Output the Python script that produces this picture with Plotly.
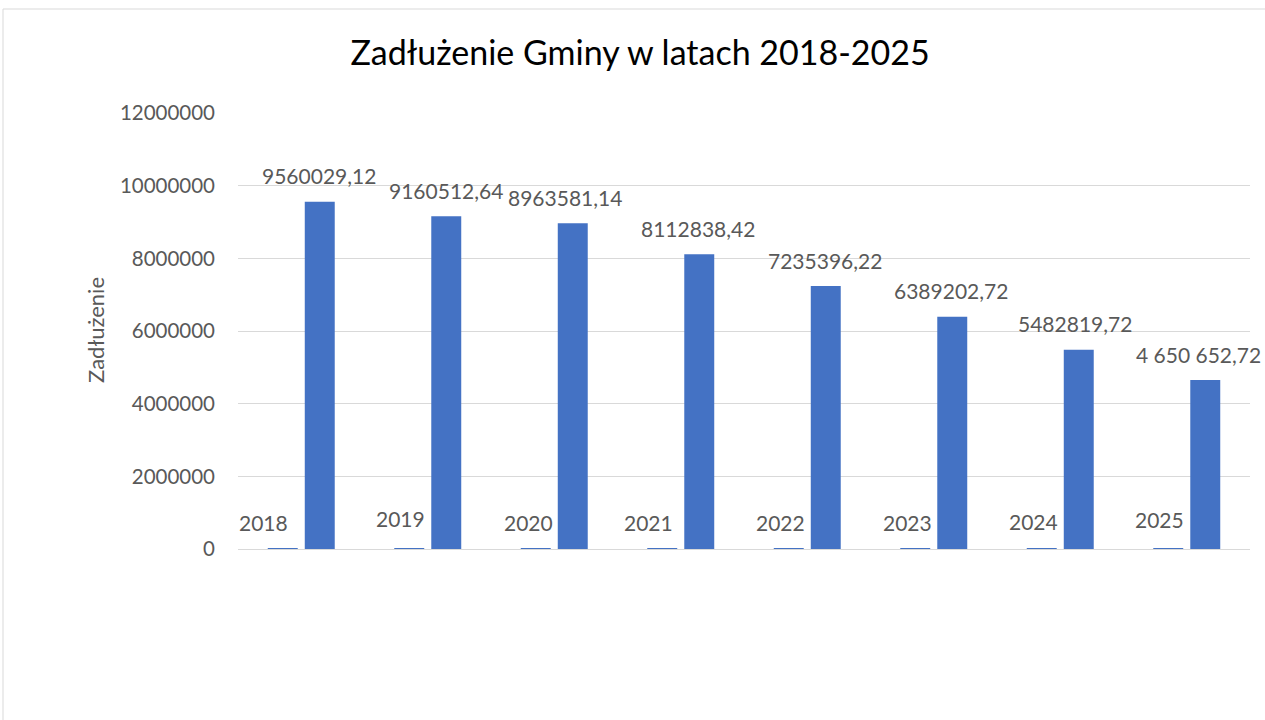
import plotly.graph_objects as go

categories = ["2018", "2019", "2020", "2021", "2022", "2023", "2024", "2025"]
year_values = [2018, 2019, 2020, 2021, 2022, 2023, 2024, 2025]
debt_values = [9560029.12, 9160512.64, 8963581.14, 8112838.42,
               7235396.22, 6389202.72, 5482819.72, 4650652.72]
debt_labels = ["9560029,12", "9160512,64", "8963581,14", "8112838,42",
               "7235396,22", "6389202,72", "5482819,72", "4 650 652,72"]
y_ticks = [0, 2000000, 4000000, 6000000, 8000000, 10000000, 12000000]

# label offsets (styling, pixels)
year_label_dx = [-38, -27, -26, -32, -27, -26, -27, -27]
year_label_dy = [26, 30, 26, 26, 26, 26, 27, 29]
debt_label_dx = [18, 18, 11, 17, 18, 17, 15, 12]

BLUE = "#4472C4"
FONT = "Lato"
GREY = "#595959"

fig = go.Figure()
fig.add_trace(go.Bar(x=categories, y=year_values, marker_color=BLUE,
                     marker_line_width=0, name="Rok", hoverinfo="skip"))
fig.add_trace(go.Bar(x=categories, y=debt_values, marker_color=BLUE,
                     marker_line_width=0, name="Zadłużenie"))

L, R, T, B = 238, 15, 113, 171
W, H = 1265, 720
pw, ph = W - L - R, H - T - B

annotations = []
for i, (v, lab) in enumerate(zip(debt_values, debt_labels)):
    annotations.append(dict(x=i, y=v, xref="x", yref="y", text=lab,
                            showarrow=False, xshift=debt_label_dx[i], yshift=26,
                            font=dict(family=FONT, size=21, color=GREY)))
for i, v in enumerate(year_values):
    annotations.append(dict(x=i, y=v, xref="x", yref="y", text=str(v),
                            showarrow=False, xshift=year_label_dx[i],
                            yshift=year_label_dy[i],
                            font=dict(family=FONT, size=21, color=GREY)))
annotations.append(dict(x=(95 - L) / pw, y=(H - B - 330) / ph, xref="paper",
                        yref="paper", text="Zadłużenie", textangle=-90,
                        showarrow=False, xanchor="center", yanchor="middle",
                        font=dict(family=FONT, size=22, color=GREY)))

fig.add_shape(type="rect", xref="paper", yref="paper",
              x0=(3 - L) / pw, x1=(W + 10 - L) / pw,
              y0=(H - B - (H + 10)) / ph, y1=(H - B - 9) / ph,
              line=dict(color="#d9d9d9", width=1), fillcolor="rgba(0,0,0,0)",
              layer="below")

fig.update_layout(
    width=W, height=H,
    margin=dict(l=L, r=R, t=T, b=B),
    paper_bgcolor="white", plot_bgcolor="white",
    barmode="group", bargap=0.415, bargroupgap=0.19,
    showlegend=False,
    title=dict(text="Zadłużenie Gminy w latach 2018-2025", x=0.506, xanchor="center",
               y=1 - 53 / H, yanchor="middle",
               font=dict(family=FONT, size=34, color="#000000")),
    xaxis=dict(type="category", range=[-0.5, 7.5], showticklabels=False,
               showgrid=False, showline=True, linecolor="#d9d9d9", linewidth=1,
               zeroline=False, fixedrange=True),
    yaxis=dict(range=[0, 12000000], tickvals=y_ticks,
               ticktext=[str(t) for t in y_ticks],
               showgrid=True, gridcolor="#d9d9d9", gridwidth=1,
               zeroline=False, showline=False, ticks="",
               ticklabelstandoff=22,
               tickfont=dict(family=FONT, size=20.5, color=GREY),
               automargin=False),
    annotations=annotations,
)

fig.write_html("out.html", config={"displayModeBar": False},
               post_script="document.body.style.margin='0';")
